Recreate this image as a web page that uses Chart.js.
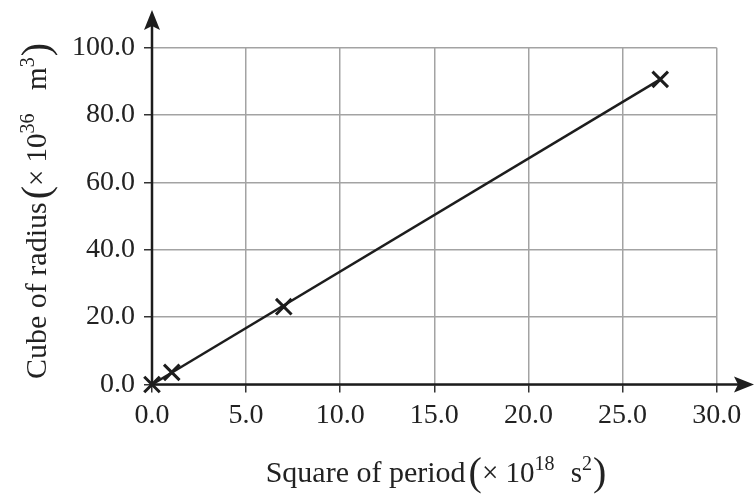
<!DOCTYPE html>
<html>
<head>
<meta charset="utf-8">
<script src="https://cdn.jsdelivr.net/npm/chart.js@4.4.1/dist/chart.umd.min.js"></script>
<style>
  body { margin: 0; background: #fff; }
  canvas { display: block; }
</style>
</head>
<body>
<canvas id="kepler" width="755" height="495"></canvas>
<script>
// Measured points (square of period, cube of radius)
const periodSquared = [0, 1.05, 7.0, 27.0];
const radiusCubed = [0, 3.6, 23.1, 90.6];

// Straight line drawn through the points
const lineX = [0, 27.0];
const lineY = [0, 90.6];

// Axis ranges and tick steps
const xRange = [0, 30];
const yRange = [0, 100];
const xStep = 5;
const yStep = 10;

const serif = "'Liberation Serif', 'DejaVu Serif', serif";
const ink = "#1d1d1d";

// Draw a title made of pieces (normal text, big brackets, superscripts)
function drawPieces(ctx, pieces, cx, baseline) {
  let total = 0;
  pieces.forEach(p => {
    ctx.font = p.size + "px " + serif;
    p.w = ctx.measureText(p.t).width + (p.gap || 0);
    total += p.w;
  });
  let x = cx - total / 2;
  pieces.forEach(p => {
    ctx.font = p.size + "px " + serif;
    ctx.fillText(p.t, x, baseline + (p.dy || 0));
    x += p.w;
  });
}

function titlePieces(label, exp, unit, unitExp) {
  return [
    { t: label, size: 30, gap: 3 },
    { t: "(", size: 40, dy: 3 },
    { t: "\u00d7 10", size: 29 },
    { t: exp, size: 20, dy: -12, gap: 9 },
    { t: unit, size: 29 },
    { t: unitExp, size: 20, dy: -12, gap: 1 },
    { t: ")", size: 40, dy: 3 }
  ];
}

const axesPlugin = {
  id: "axesPlugin",
  beforeDatasetsDraw(chart) {
    const ctx = chart.ctx;
    const x0 = chart.scales.x.getPixelForValue(0);
    const y0 = chart.scales.y.getPixelForValue(0);
    ctx.save();
    ctx.strokeStyle = ink;
    ctx.fillStyle = ink;
    ctx.lineWidth = 2.5;
    // y axis
    ctx.beginPath();
    ctx.moveTo(x0, y0);
    ctx.lineTo(x0, 24);
    ctx.stroke();
    ctx.beginPath();
    ctx.moveTo(x0, 10);
    ctx.lineTo(x0 - 8, 30);
    ctx.lineTo(x0, 26);
    ctx.lineTo(x0 + 8, 30);
    ctx.closePath();
    ctx.fill();
    // x axis
    ctx.beginPath();
    ctx.moveTo(x0, y0);
    ctx.lineTo(740, y0);
    ctx.stroke();
    ctx.beginPath();
    ctx.moveTo(754, y0);
    ctx.lineTo(734, y0 - 8);
    ctx.lineTo(738, y0);
    ctx.lineTo(734, y0 + 8);
    ctx.closePath();
    ctx.fill();
    ctx.restore();
  },
  afterDraw(chart) {
    const ctx = chart.ctx;
    ctx.save();
    ctx.fillStyle = "#222";
    ctx.textBaseline = "alphabetic";
    ctx.textAlign = "left";
    drawPieces(ctx, titlePieces("Square of period", "18", " s", "2"), 436, 482);
    ctx.translate(46, 211);
    ctx.rotate(-Math.PI / 2);
    drawPieces(ctx, titlePieces("Cube of radius", "36", "  m", "3"), 0, 0);
    ctx.restore();
  }
};

new Chart("kepler", {
  type: "scatter",
  data: {
    datasets: [
      {
        data: periodSquared.map((v, i) => ({ x: v, y: radiusCubed[i] })),
        pointStyle: "crossRot",
        pointRadius: 11,
        pointBorderWidth: 3,
        borderColor: ink,
        backgroundColor: ink,
        showLine: false,
        clip: false
      },
      {
        data: lineX.map((v, i) => ({ x: v, y: lineY[i] })),
        showLine: true,
        borderColor: ink,
        borderWidth: 2.5,
        pointRadius: 0,
        clip: false
      }
    ]
  },
  options: {
    responsive: false,
    animation: false,
    devicePixelRatio: 1,
    layout: { padding: { top: 47.7, right: 38.3, left: 0, bottom: 0 } },
    plugins: { legend: { display: false }, tooltip: { enabled: false } },
    scales: {
      x: {
        min: xRange[0],
        max: xRange[1],
        afterFit(scale) { scale.height = 110.5; },
        border: { display: false },
        grid: { color: "#a3a3a3", lineWidth: 1.5, tickColor: "#333", tickLength: 8 },
        ticks: {
          stepSize: xStep,
          padding: 6,
          color: "#222",
          font: { family: serif, size: 28 },
          callback: v => v.toFixed(1)
        }
      },
      y: {
        min: yRange[0],
        max: yRange[1],
        afterFit(scale) { scale.width = 152; },
        border: { display: false },
        grid: { color: "#a3a3a3", lineWidth: 1.5, tickColor: "#333", tickLength: 8 },
        ticks: {
          stepSize: yStep,
          padding: 9,
          color: "#222",
          font: { family: serif, size: 28 },
          callback: v => (v % 20 === 0 ? v.toFixed(1) : "")
        }
      }
    }
  },
  plugins: [axesPlugin]
});
</script>
</body>
</html>
